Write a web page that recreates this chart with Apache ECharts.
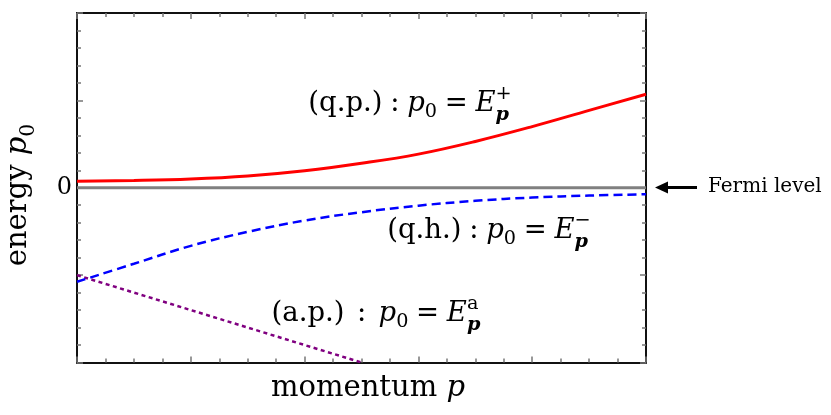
<!DOCTYPE html>
<html>
<head>
<meta charset="utf-8">
<script src="https://cdn.jsdelivr.net/npm/echarts@6/dist/echarts.min.js"></script>
<style>
  html, body { margin: 0; padding: 0; background: #fff; }
  #chart { width: 831px; height: 415px; }
</style>
</head>
<body>
<div id="chart"></div>
<script>
// momentum grid and the two quasi-particle branches
const momentum = [0, 0.5, 1, 1.5, 2, 2.5, 3, 3.5, 4, 4.5, 5];
const quasiParticle = [0.075, 0.083, 0.10, 0.135, 0.195, 0.28, 0.385, 0.53, 0.70, 0.885, 1.07];
const quasiHole = [-1.076, -0.87, -0.665, -0.505, -0.375, -0.28, -0.205, -0.15, -0.112, -0.09, -0.074];
// anti-particle branch (straight line down to the bottom of the frame)
const antiMomentum = [0, 0.5, 1, 1.5, 2, 2.5];
const antiParticle = [-1.0, -1.2, -1.4, -1.6, -1.8, -2.0];
// Fermi level
const fermiMomentum = [0, 5];
const fermiEnergy = [0, 0];
const yTickLabels = { '0': '0' };

const FONT = '"DejaVu Serif"';
const measureCtx = document.createElement('canvas').getContext('2d');

// small TeX-like composer: italic / bold / sub / sup pieces laid out by measured width
function mathLabel(parts, size, at) {
  const kids = [];
  let cx = 0;
  function addPart(p, x0) {
    const fs = size * (p.s || 1);
    const font = (p.i ? 'italic ' : '') + (p.b ? 'bold ' : '') + fs + 'px ' + FONT;
    measureCtx.font = font;
    const w = measureCtx.measureText(p.t).width;
    kids.push({
      type: 'text', x: x0, y: (p.dy || 0) * size - 0.35 * fs, silent: true,
      style: { text: p.t, font: font, fill: '#000', align: 'left', verticalAlign: 'middle',
               textAlign: 'left', textVerticalAlign: 'middle' }
    });
    return w;
  }
  parts.forEach(p => {
    if (p.gap) { cx += p.gap * size; return; }
    if (p.stack) {
      let w = 0;
      p.stack.forEach(q => { w = Math.max(w, addPart(q, cx)); });
      cx += w;
      return;
    }
    cx += addPart(p, cx);
  });
  const off = at.anchor === 'center' ? -cx / 2 : 0;
  kids.forEach(k => { k.x += off; });
  return { type: 'group', x: at.x, y: at.y, rotation: at.rotate || 0, z: 100, children: kids };
}

const sub0 = { t: '0', s: 0.7, dy: 0.22 };
const labelSize = 27.5;

const graphics = [
  mathLabel([{ t: '(q.p.)' }, { gap: 0.28 }, { t: ':' }, { gap: 0.28 }, { t: 'p', i: 1 }, sub0,
    { gap: 0.28 }, { t: '=' }, { gap: 0.28 }, { t: 'E', i: 1 },
    { stack: [{ t: '+', s: 0.7, dy: -0.45 }, { t: 'p', s: 0.7, i: 1, b: 1, dy: 0.3 }] }],
    labelSize, { x: 410, y: 113, anchor: 'center' }),
  mathLabel([{ t: '(q.h.)' }, { gap: 0.28 }, { t: ':' }, { gap: 0.28 }, { t: 'p', i: 1 }, sub0,
    { gap: 0.28 }, { t: '=' }, { gap: 0.28 }, { t: 'E', i: 1 },
    { stack: [{ t: '\u2212', s: 0.7, dy: -0.45 }, { t: 'p', s: 0.7, i: 1, b: 1, dy: 0.3 }] }],
    labelSize, { x: 489, y: 240, anchor: 'center' }),
  mathLabel([{ t: '(a.p.)' }, { gap: 0.45 }, { t: ':' }, { gap: 0.45 }, { t: 'p', i: 1 }, sub0,
    { gap: 0.28 }, { t: '=' }, { gap: 0.28 }, { t: 'E', i: 1 },
    { stack: [{ t: 'a', s: 0.7, dy: -0.45 }, { t: 'p', s: 0.7, i: 1, b: 1, dy: 0.3 }] }],
    labelSize, { x: 376, y: 323, anchor: 'center' }),
  mathLabel([{ t: 'momentum ' }, { t: 'p', i: 1 }], 29, { x: 368, y: 399, anchor: 'center' }),
  mathLabel([{ t: 'energy ' }, { t: 'p', i: 1 }, sub0], 29, { x: 29, y: 195, anchor: 'center', rotate: Math.PI / 2 }),
  mathLabel([{ t: 'Fermi level' }], 20, { x: 708, y: 194 }),
  { type: 'line', silent: true, z: 100, shape: { x1: 697, y1: 187.5, x2: 664, y2: 187.5 },
    style: { stroke: '#000', lineWidth: 3 } },
  { type: 'polygon', silent: true, z: 100, shape: { points: [[655, 187.5], [668, 181.5], [668, 193.5]] },
    style: { fill: '#000' } }
];

function frameAxis(extra) {
  return Object.assign({
    type: 'value',
    axisLine: { show: true, onZero: false, lineStyle: { color: '#111', width: 2 } },
    axisTick: { show: true, inside: true, length: 6, lineStyle: { color: '#777', width: 1.5 } },
    minorTick: { show: true, inside: true, length: 4, lineStyle: { color: '#777', width: 1.5 } },
    axisLabel: { show: false },
    splitLine: { show: false },
    minorSplitLine: { show: false }
  }, extra);
}

const chart = echarts.init(document.getElementById('chart'));
chart.setOption({
  animation: false,
  backgroundColor: '#fff',
  grid: { left: 77, top: 13, right: 185, bottom: 52.5 },
  xAxis: [
    frameAxis({ min: 0, max: 5, interval: 1, position: 'bottom', minorTick: { show: true, splitNumber: 4, length: 4, lineStyle: { color: '#777', width: 1.5 } } }),
    frameAxis({ min: 0, max: 5, interval: 1, position: 'top', minorTick: { show: true, splitNumber: 4, length: 4, lineStyle: { color: '#777', width: 1.5 } } })
  ],
  yAxis: [
    frameAxis({
      min: -2, max: 2, interval: 1, position: 'left',
      minorTick: { show: true, splitNumber: 5, length: 4, lineStyle: { color: '#777', width: 1.5 } },
      axisLabel: { show: true, margin: 5, fontFamily: FONT, fontSize: 24, color: '#000',
        formatter: v => yTickLabels[String(v)] || '' }
    }),
    frameAxis({
      min: -2, max: 2, interval: 1, position: 'right',
      minorTick: { show: true, splitNumber: 5, length: 4, lineStyle: { color: '#777', width: 1.5 } }
    })
  ],
  series: [
    {
      name: 'Fermi level', type: 'line', symbol: 'none', z: 1,
      data: fermiMomentum.map((x, i) => [x, fermiEnergy[i]]),
      lineStyle: { color: '#808080', width: 3 }
    },
    {
      name: 'q.p.', type: 'line', symbol: 'none', smooth: 0.4, z: 3,
      data: momentum.map((x, i) => [x, quasiParticle[i]]),
      lineStyle: { color: '#ff0000', width: 3 }
    },
    {
      name: 'q.h.', type: 'line', symbol: 'none', smooth: 0.4, z: 3,
      data: momentum.map((x, i) => [x, quasiHole[i]]),
      lineStyle: { color: '#0000ff', width: 2.5, type: [9, 5] }
    },
    {
      name: 'a.p.', type: 'line', symbol: 'none', z: 2,
      data: antiMomentum.map((x, i) => [x, antiParticle[i]]),
      lineStyle: { color: '#800080', width: 2.5, type: [4, 3.5] }
    }
  ],
  graphic: graphics
});
</script>
</body>
</html>
